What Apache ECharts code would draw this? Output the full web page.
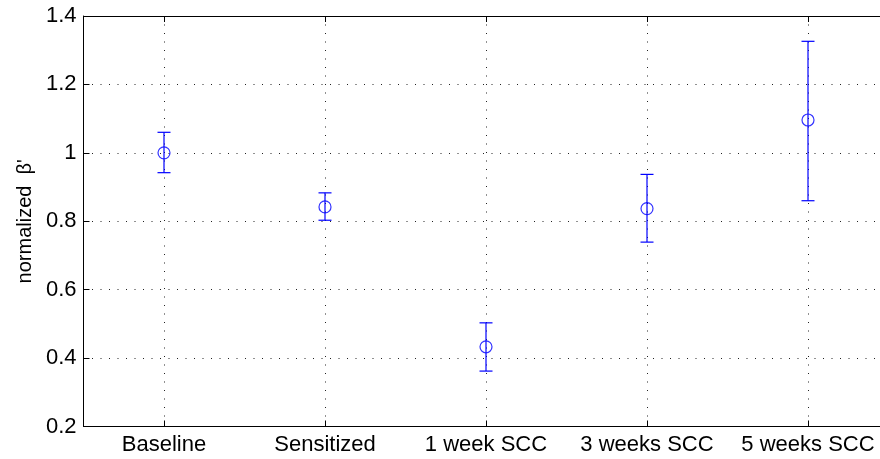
<!DOCTYPE html>
<html>
<head>
<meta charset="utf-8">
<script src="https://cdn.jsdelivr.net/npm/echarts@6/dist/echarts.min.js"></script>
<style>
  html, body { margin: 0; padding: 0; background: #fff; overflow: hidden; }
  /* the plot box runs slightly past the right edge of the page */
  #chart { width: 890px; height: 459px; }
</style>
</head>
<body>
<div id="chart"></div>
<script>
// Groups along the x axis
var categories = ['Baseline', 'Sensitized', '1 week SCC', '3 weeks SCC', '5 weeks SCC'];
// Normalized beta' means with lower / upper error limits
var means = [1.000, 0.842, 0.433, 0.837, 1.096];
var lower = [0.942, 0.803, 0.362, 0.739, 0.860];
var upper = [1.060, 0.883, 0.503, 0.937, 1.326];
// Y axis range and step
var yTicks = [0.2, 0.4, 0.6, 0.8, 1.0, 1.2, 1.4];

var FONT = 'Liberation Sans, Arial, Helvetica, sans-serif';
var BLUE = '#0000ff';

var points = means.map(function (m, i) { return [i + 1, m]; });
var bars = means.map(function (m, i) { return [i + 1, lower[i], upper[i]]; });

var gridLine = { show: true, lineStyle: { color: '#222', width: 1, type: [1, 7.5] } };

function catLabel(v) {
  var i = Math.round(v);
  return Math.abs(v - i) < 1e-6 && i >= 1 && i <= categories.length ? categories[i - 1] : '';
}

var chart = echarts.init(document.getElementById('chart'), null, { renderer: 'canvas' });
chart.setOption({
  backgroundColor: '#fff',
  animation: false,
  grid: { left: 83.5, right: 1.5, top: 16, bottom: 32.5, containLabel: false },
  xAxis: [{
    type: 'value', min: 0.5, max: 5.5, splitNumber: 5,
    axisLine: { show: true, lineStyle: { color: '#000', width: 1 } },
    axisTick: { show: true, inside: true, length: 6, lineStyle: { color: '#000' } },
    axisLabel: { formatter: catLabel, color: '#000', fontFamily: FONT, fontSize: 22, margin: 7,
                 showMinLabel: false, showMaxLabel: false },
    splitLine: gridLine
  }, {
    type: 'value', min: 0.5, max: 5.5, splitNumber: 5, position: 'top',
    axisLine: { show: true, onZero: false, lineStyle: { color: '#000', width: 1 } },
    axisTick: { show: true, inside: true, length: 6, lineStyle: { color: '#000' } },
    axisLabel: { show: false },
    splitLine: { show: false }
  }],
  yAxis: [{
    type: 'value', min: yTicks[0], max: yTicks[yTicks.length - 1], interval: 0.2,
    name: "normalized  β'", nameLocation: 'middle', nameGap: 48, nameRotate: 90,
    nameTextStyle: { color: '#000', fontFamily: FONT, fontSize: 20 },
    axisLine: { show: true, lineStyle: { color: '#000', width: 1 } },
    axisTick: { show: true, inside: true, length: 6, lineStyle: { color: '#000' } },
    axisLabel: {
      color: '#000', fontFamily: FONT, fontSize: 22, margin: 7,
      formatter: function (v) { return (+v.toFixed(1)).toString(); }
    },
    splitLine: gridLine
  }],
  series: [{
    type: 'custom',
    name: 'error',
    xAxisIndex: 0, yAxisIndex: 0,
    data: bars,
    renderItem: function (params, api) {
      var x = api.value(0);
      var lo = api.coord([x, api.value(1)]);
      var hi = api.coord([x, api.value(2)]);
      var half = 6.5;
      var style = { stroke: BLUE, lineWidth: 1.2, fill: null };
      return {
        type: 'group',
        children: [
          { type: 'line', shape: { x1: lo[0], y1: lo[1], x2: hi[0], y2: hi[1] }, style: style },
          { type: 'line', shape: { x1: lo[0] - half, y1: lo[1], x2: lo[0] + half, y2: lo[1] }, style: style },
          { type: 'line', shape: { x1: hi[0] - half, y1: hi[1], x2: hi[0] + half, y2: hi[1] }, style: style }
        ]
      };
    },
    z: 3
  }, {
    type: 'scatter',
    name: 'mean',
    data: points,
    symbol: 'circle',
    symbolSize: 12,
    itemStyle: { color: 'rgba(0,0,0,0)', borderColor: BLUE, borderWidth: 1.2 },
    z: 4
  }]
});
</script>
</body>
</html>
